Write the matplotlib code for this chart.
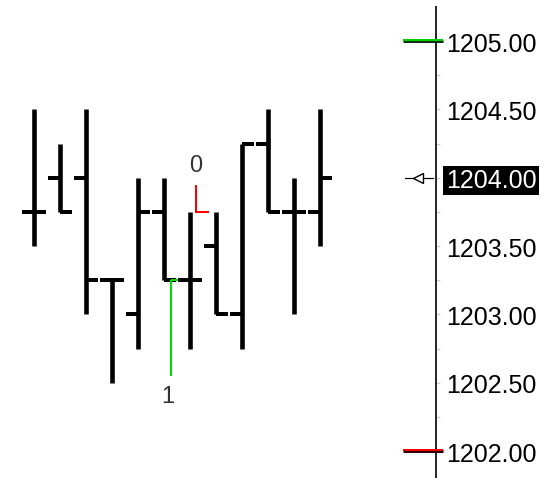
import matplotlib
matplotlib.use("Agg")
import matplotlib.pyplot as plt
from matplotlib.transforms import blended_transform_factory, ScaledTranslation
import numpy as np

# OHLC bars (one per time slot)
opens  = [1203.75, 1204.00, 1204.00, 1203.25, 1203.00, 1203.75,
          1203.25, 1203.50, 1203.00, 1204.25, 1203.75, 1203.75]
highs  = [1204.50, 1204.25, 1204.50, 1203.25, 1204.00, 1204.00,
          1203.75, 1203.75, 1204.25, 1204.50, 1204.00, 1204.50]
lows   = [1203.50, 1203.75, 1203.00, 1202.50, 1202.75, 1203.25,
          1202.75, 1203.00, 1202.75, 1203.75, 1203.00, 1203.50]
closes = [1203.75, 1203.75, 1203.25, 1203.25, 1203.75, 1203.25,
          1203.25, 1203.00, 1204.25, 1203.75, 1203.75, 1204.00]

# swing markers: label, bar position, start price, end price
swing_labels = ["1", "0"]
swing_x = [5.27, 6.23]
swing_from = [1202.55, 1203.95]
swing_to = [1203.25, 1203.75]
swing_colors = ["#00e000", "#ff0000"]

# price axis
price_ticks = [1202.00, 1202.50, 1203.00, 1203.50, 1204.00, 1204.50, 1205.00]
minor_ticks = [1202.25, 1202.75, 1203.25, 1203.75, 1204.25, 1204.75]
upper_level = 1205.00
lower_level = 1202.00
last_price = closes[-1]

FONT = "Liberation Sans"

fig = plt.figure(figsize=(5.48, 4.81), dpi=100)
fig.patch.set_facecolor("white")
ax = fig.add_axes([0, 3 / 481, 436 / 548, 470 / 481])
ax.set_xlim(-1.3077, 15.4615)
ax.set_ylim(1201.8098, 1205.2488)

px = 72 / 100  # points per pixel
bar_lw = 4.6 * px
half = 0.46

x = np.arange(len(opens))
ax.vlines(x, lows, highs, colors="black", linewidth=bar_lw, capstyle="butt")
ax.hlines(opens, x - half, x, colors="black", linewidth=4 * px, capstyle="butt")
ax.hlines(closes, x, x + half, colors="black", linewidth=4 * px, capstyle="butt")

# swing legs
# "1": leg from the low up to the bar close, with short horizontal hook
ax.plot([swing_x[0], swing_x[0]], [swing_from[0], swing_to[0]],
        color=swing_colors[0], lw=2 * px, solid_capstyle="butt")
ax.plot([swing_x[0], swing_x[0] + 0.28], [swing_to[0], swing_to[0]],
        color=swing_colors[0], lw=2 * px, solid_capstyle="butt")
ax.text(swing_x[0] - 0.12, swing_from[0] - 0.15, swing_labels[0],
        ha="center", va="center", fontsize=17, family=FONT, color="#333333")
# "0": leg from the high down, then hook to the right
ax.plot([swing_x[1], swing_x[1], swing_x[1] + 0.5],
        [swing_from[1], swing_to[1], swing_to[1]],
        color=swing_colors[1], lw=2 * px, solid_capstyle="butt",
        solid_joinstyle="miter")
ax.text(swing_x[1], swing_from[1] + 0.145, swing_labels[1],
        ha="center", va="center", fontsize=17, family=FONT, color="#333333")

# price axis on the right
for s in ["top", "left", "bottom"]:
    ax.spines[s].set_visible(False)
ax.spines["right"].set_color("#2a2a2a")
ax.spines["right"].set_linewidth(2 * px)
ax.set_xticks([])
ax.yaxis.tick_right()
ax.set_yticks(price_ticks)
ax.set_yticks(minor_ticks, minor=True)
ax.set_yticklabels([f"{v:.2f}" for v in price_ticks], family=FONT, fontsize=18)
ax.tick_params(axis="y", which="both", direction="out", length=3,
               width=1, color="#d0d0d0", pad=4, labelcolor="black")

for lbl, v in zip(ax.get_yticklabels(), price_ticks):
    if abs(v - last_price) < 1e-9:
        lbl.set_color("white")
        lbl.set_bbox(dict(boxstyle="square,pad=0.1", fc="black", ec="none"))

# session high / low level markers across the axis
tr = blended_transform_factory(ax.transAxes, ax.transData)
for lvl, col, dark in [(upper_level, "#00d000", "#103010"),
                       (lower_level, "#ee0000", "#300000")]:
    ax.plot([0.924, 1.016], [lvl, lvl], transform=tr, color=dark,
            lw=3 * px, clip_on=False, solid_capstyle="butt", zorder=5)
    up = tr + ScaledTranslation(0, 0.6 / 100, fig.dpi_scale_trans)
    ax.plot([0.924, 1.016], [lvl, lvl], transform=up, color=col,
            lw=2 * px, clip_on=False, solid_capstyle="butt", zorder=6)

# last price pointer
ax.plot([0.929, 0.950], [last_price, last_price], transform=tr,
        color="black", lw=1.2 * px, clip_on=False)
ax.plot([0.968, 0.993], [last_price, last_price], transform=tr,
        color="black", lw=1.2 * px, clip_on=False)
ax.plot([0.959], [last_price], transform=tr, marker="<", markersize=7.5,
        markerfacecolor="white", markeredgecolor="black",
        markeredgewidth=1.0, clip_on=False, zorder=7)

fig.savefig("out.png", dpi=100, facecolor="white")
